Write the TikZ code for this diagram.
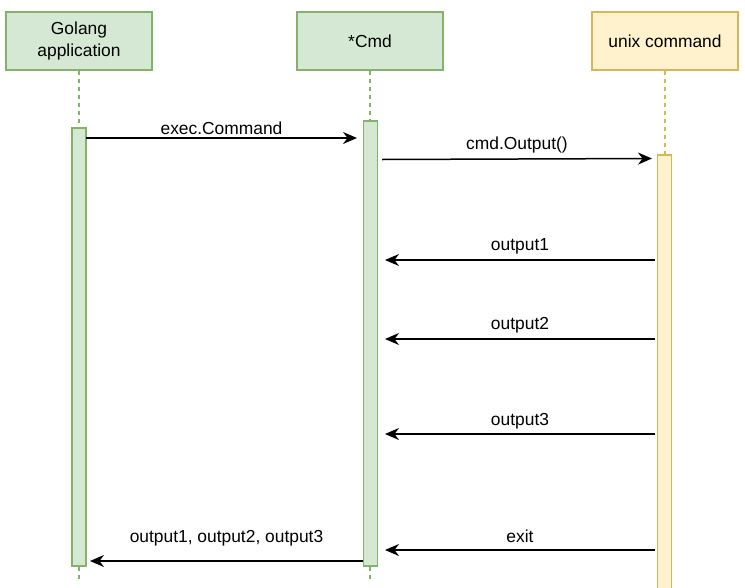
\documentclass[tikz,border=0pt]{standalone}
\usepackage{fontspec}
\setmainfont{Liberation Sans}
\usetikzlibrary{arrows.meta}
\definecolor{gfill}{HTML}{D5E8D4}
\definecolor{gline}{HTML}{82B366}
\definecolor{yfill}{HTML}{FFF2CC}
\definecolor{yline}{HTML}{D6B656}
\begin{document}
\begin{tikzpicture}[x=1pt,y=-1pt,
  font=\fontsize{17.4}{22}\selectfont,
  gbox/.style={draw=gline,fill=gfill,line width=1.5pt,minimum width=146pt,minimum height=58pt,inner sep=0pt,align=center},
  ybox/.style={draw=yline,fill=yfill,line width=1.5pt,minimum width=146pt,minimum height=58pt,inner sep=0pt,align=center},
  gact/.style={draw=gline,fill=gfill,line width=1.5pt,minimum width=14pt,inner sep=0pt},
  yact/.style={draw=yline,fill=yfill,line width=1.5pt,minimum width=14pt,inner sep=0pt},
  lifeg/.style={draw=gline,line width=1.2pt,dash pattern=on 4pt off 4pt},
  lifey/.style={draw=yline,line width=1.2pt,dash pattern=on 4pt off 4pt},
  msg/.style={line width=1.5pt,-{Stealth[length=14pt,width=12pt,inset=4.5pt]}},
  lbl/.style={anchor=south,inner sep=1.5pt}
]
\useasboundingbox (0,0) rectangle (745,587);
\node[gbox] (go) at (79,41) {Golang\\application};
\node[gbox] (cmd) at (370,41) {*Cmd};
\node[ybox] (unix) at (665,41) {unix command};
\coordinate (goend) at (79,581);
\coordinate (cmdend) at (370,581);
\coordinate (unixend) at (665,587);
\draw[lifeg] (go.south) -- (goend);
\draw[lifeg] (cmd.south) -- (cmdend);
\draw[lifey] (unix.south) -- (unixend);
\node[gact,minimum height=438pt] (ga) at (79,347) {};
\node[gact,minimum height=445pt] (ca) at (370.5,343.5) {};
\node[yact,minimum height=434pt] (ua) at (664.5,372) {};
% messages
\coordinate (m1s) at (86,138); \coordinate (m1e) at (357,138);
\draw[msg] (m1s) -- (m1e) node[lbl,midway,yshift=1pt] (l1) {exec.Command};
\coordinate (m2s) at (382,159.5); \coordinate (m2e) at (652,158.5);
\draw[msg] (m2s) -- (m2e) node[lbl,midway,yshift=4pt] (l2) {cmd.Output()};
\coordinate (m3s) at (655,260); \coordinate (m3e) at (385,260);
\draw[msg] (m3s) -- (m3e) node[lbl,midway,yshift=4pt] (l3) {output1};
\coordinate (m4s) at (655,339); \coordinate (m4e) at (385,339);
\draw[msg] (m4s) -- (m4e) node[lbl,midway,yshift=4pt] (l4) {output2};
\coordinate (m5s) at (655,434); \coordinate (m5e) at (385,434);
\draw[msg] (m5s) -- (m5e) node[lbl,midway,yshift=3pt] (l5) {output3};
\coordinate (m6s) at (655,550); \coordinate (m6e) at (385,550);
\draw[msg] (m6s) -- (m6e) node[lbl,midway,yshift=5pt] (l6) {exit};
\coordinate (m7s) at (363,561); \coordinate (m7e) at (90,561);
\draw[msg] (m7s) -- (m7e) node[lbl,midway,yshift=13pt] (l7) {output1, output2, output3};
\end{tikzpicture}
\end{document}
